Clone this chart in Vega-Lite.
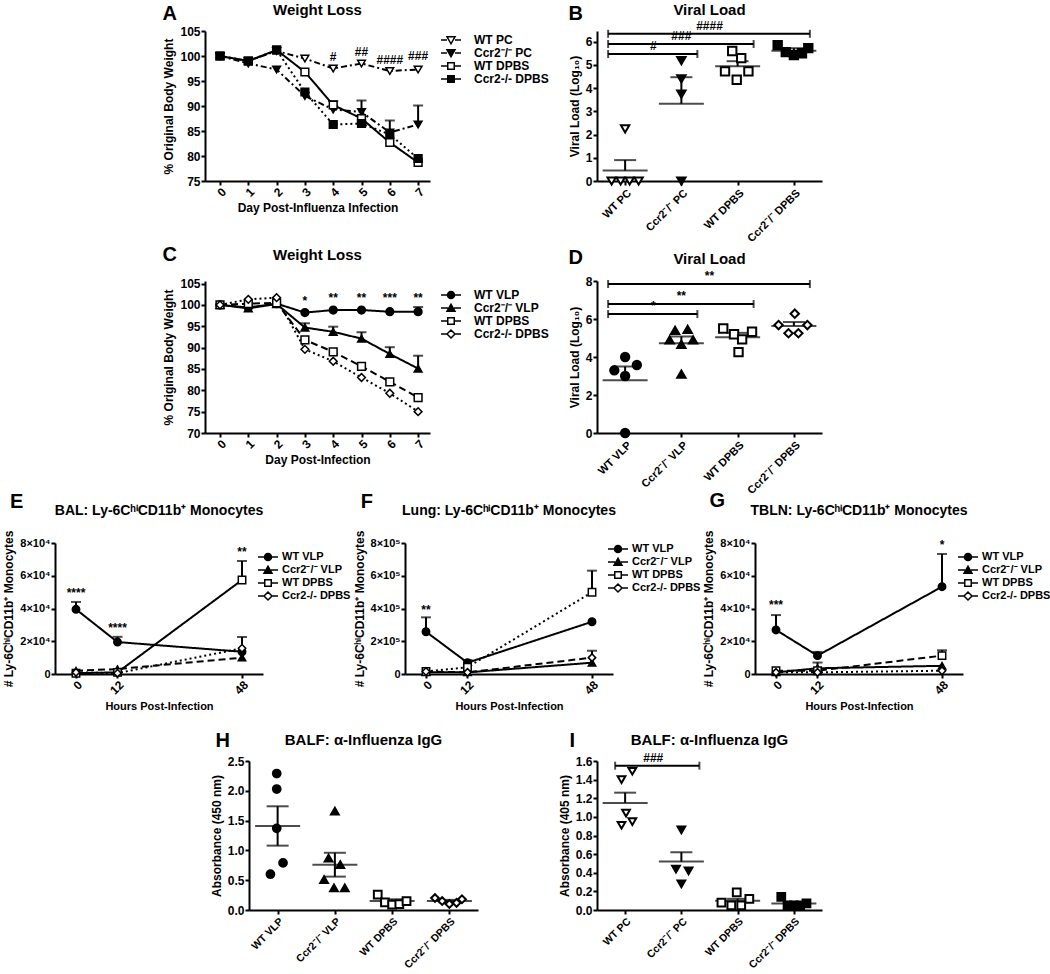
{
"$schema": "https://vega.github.io/schema/vega-lite/v6.json",
"padding": {"left": 0, "top": 2, "right": 0, "bottom": 0},
"background": "white",
"config": {
 "font": "Liberation Sans",
 "view": {"stroke": null},
 "axis": {"domainColor": "black", "domainWidth": 2, "tickColor": "black", "tickWidth": 2, "tickSize": 4, "labelFont": "Liberation Sans", "labelFontWeight": "bold", "labelFontSize": 12, "labelColor": "black", "labelPadding": 1, "labelOverlap": false, "titleFont": "Liberation Sans", "titleFontWeight": "bold", "titleFontSize": 12, "titleColor": "black", "grid": false},
 "title": {"font": "Liberation Sans", "fontWeight": "bold", "fontSize": 15, "color": "black", "frame": "group", "anchor": "middle"},
 "legend": {"labelFont": "Liberation Sans", "labelFontWeight": "bold", "labelColor": "black"},
 "text": {"font": "Liberation Sans", "fontWeight": "bold", "fontSize": 12, "color": "black"}
},
"datasets": {
 "A": [
  {"g":"WT PC","d":0,"v":100},{"g":"WT PC","d":1,"v":99},{"g":"WT PC","d":2,"v":101},{"g":"WT PC","d":3,"v":99.5},{"g":"WT PC","d":4,"v":97.5},{"g":"WT PC","d":5,"v":98.5},{"g":"WT PC","d":6,"v":97},{"g":"WT PC","d":7,"v":97.3},
  {"g":"Ccr2⁻/⁻ PC","d":0,"v":100},{"g":"Ccr2⁻/⁻ PC","d":1,"v":98.5},{"g":"Ccr2⁻/⁻ PC","d":2,"v":97.3},{"g":"Ccr2⁻/⁻ PC","d":3,"v":92},{"g":"Ccr2⁻/⁻ PC","d":4,"v":89.3},{"g":"Ccr2⁻/⁻ PC","d":5,"v":88.8,"hi":91.1},{"g":"Ccr2⁻/⁻ PC","d":6,"v":84.7,"hi":87.1},{"g":"Ccr2⁻/⁻ PC","d":7,"v":86.3,"hi":90.1},
  {"g":"WT DPBS","d":0,"v":100},{"g":"WT DPBS","d":1,"v":99},{"g":"WT DPBS","d":2,"v":101.2},{"g":"WT DPBS","d":3,"v":96.8},{"g":"WT DPBS","d":4,"v":90.2,"hi":91},{"g":"WT DPBS","d":5,"v":87.5},{"g":"WT DPBS","d":6,"v":82.7},{"g":"WT DPBS","d":7,"v":78.7},
  {"g":"Ccr2-/- DPBS","d":0,"v":100},{"g":"Ccr2-/- DPBS","d":1,"v":99},{"g":"Ccr2-/- DPBS","d":2,"v":101.2},{"g":"Ccr2-/- DPBS","d":3,"v":92.8},{"g":"Ccr2-/- DPBS","d":4,"v":86.3},{"g":"Ccr2-/- DPBS","d":5,"v":86.5},{"g":"Ccr2-/- DPBS","d":6,"v":84.3},{"g":"Ccr2-/- DPBS","d":7,"v":79.5}
 ],
 "Asig": [{"d":4,"v":99.8,"t":"#"},{"d":5,"v":100.8,"t":"##"},{"d":6,"v":99.2,"t":"####"},{"d":7,"v":100,"t":"###"}],
 "C": [
  {"g":"WT VLP","d":0,"v":100},{"g":"WT VLP","d":1,"v":99.4},{"g":"WT VLP","d":2,"v":100.3},{"g":"WT VLP","d":3,"v":98.2},{"g":"WT VLP","d":4,"v":98.8},{"g":"WT VLP","d":5,"v":98.8},{"g":"WT VLP","d":6,"v":98.4},{"g":"WT VLP","d":7,"v":98.4,"hi":99.5},
  {"g":"Ccr2⁻/⁻ VLP","d":0,"v":100},{"g":"Ccr2⁻/⁻ VLP","d":1,"v":99.2},{"g":"Ccr2⁻/⁻ VLP","d":2,"v":100.2},{"g":"Ccr2⁻/⁻ VLP","d":3,"v":94.7,"hi":95.7},{"g":"Ccr2⁻/⁻ VLP","d":4,"v":93.7,"hi":94.9},{"g":"Ccr2⁻/⁻ VLP","d":5,"v":92.1,"hi":93.6},{"g":"Ccr2⁻/⁻ VLP","d":6,"v":88.5,"hi":90.1},{"g":"Ccr2⁻/⁻ VLP","d":7,"v":85.1,"hi":88.1},
  {"g":"WT DPBS","d":0,"v":100},{"g":"WT DPBS","d":1,"v":100.3},{"g":"WT DPBS","d":2,"v":100.5},{"g":"WT DPBS","d":3,"v":91.8},{"g":"WT DPBS","d":4,"v":89},{"g":"WT DPBS","d":5,"v":85.6},{"g":"WT DPBS","d":6,"v":82},{"g":"WT DPBS","d":7,"v":78.3},
  {"g":"Ccr2-/- DPBS","d":0,"v":100},{"g":"Ccr2-/- DPBS","d":1,"v":101.3},{"g":"Ccr2-/- DPBS","d":2,"v":101.7},{"g":"Ccr2-/- DPBS","d":3,"v":89.6},{"g":"Ccr2-/- DPBS","d":4,"v":86.8},{"g":"Ccr2-/- DPBS","d":5,"v":83},{"g":"Ccr2-/- DPBS","d":6,"v":79.3},{"g":"Ccr2-/- DPBS","d":7,"v":75}
 ],
 "Csig": [{"d":3,"v":100.8,"t":"*"},{"d":4,"v":101.6,"t":"**"},{"d":5,"v":101.6,"t":"**"},{"d":6,"v":101.6,"t":"***"},{"d":7,"v":101.6,"t":"**"}],
 "E": [
  {"g":"WT VLP","h":0,"v":39500,"hi":44000},{"g":"WT VLP","h":12,"v":19500,"hi":22700},{"g":"WT VLP","h":48,"v":13600},
  {"g":"Ccr2⁻/⁻ VLP","h":0,"v":2000},{"g":"Ccr2⁻/⁻ VLP","h":12,"v":3000},{"g":"Ccr2⁻/⁻ VLP","h":48,"v":10000},
  {"g":"WT DPBS","h":0,"v":500},{"g":"WT DPBS","h":12,"v":1000},{"g":"WT DPBS","h":48,"v":57400,"hi":69000},
  {"g":"Ccr2-/- DPBS","h":0,"v":1000},{"g":"Ccr2-/- DPBS","h":12,"v":500},{"g":"Ccr2-/- DPBS","h":48,"v":15700,"hi":22600}
 ],
 "Esig": [{"h":0,"v":49500,"t":"****"},{"h":12,"v":28000,"t":"****"},{"h":48,"v":74500,"t":"**"}],
 "F": [
  {"g":"WT VLP","h":0,"v":258000,"hi":346000},{"g":"WT VLP","h":12,"v":69000,"hi":85000},{"g":"WT VLP","h":48,"v":319000},
  {"g":"Ccr2⁻/⁻ VLP","h":0,"v":10000},{"g":"Ccr2⁻/⁻ VLP","h":12,"v":10000},{"g":"Ccr2⁻/⁻ VLP","h":48,"v":69000},
  {"g":"WT DPBS","h":0,"v":15000},{"g":"WT DPBS","h":12,"v":41000},{"g":"WT DPBS","h":48,"v":499000,"hi":631000},
  {"g":"Ccr2-/- DPBS","h":0,"v":15000},{"g":"Ccr2-/- DPBS","h":12,"v":10000},{"g":"Ccr2-/- DPBS","h":48,"v":100000,"hi":142000}
 ],
 "Fsig": [{"h":0,"v":390000,"t":"**"}],
 "G": [
  {"g":"WT VLP","h":0,"v":26900,"hi":36000},{"g":"WT VLP","h":12,"v":11200,"hi":13500},{"g":"WT VLP","h":48,"v":53300,"hi":73300},
  {"g":"Ccr2⁻/⁻ VLP","h":0,"v":1000},{"g":"Ccr2⁻/⁻ VLP","h":12,"v":3500,"hi":7000},{"g":"Ccr2⁻/⁻ VLP","h":48,"v":5000},
  {"g":"WT DPBS","h":0,"v":2000},{"g":"WT DPBS","h":12,"v":2000},{"g":"WT DPBS","h":48,"v":11200,"hi":14500},
  {"g":"Ccr2-/- DPBS","h":0,"v":1000},{"g":"Ccr2-/- DPBS","h":12,"v":1000},{"g":"Ccr2-/- DPBS","h":48,"v":2000}
 ],
 "Gsig": [{"h":0,"v":42000,"t":"***"},{"h":48,"v":79000,"t":"*"}],
 "B": [
  {"g":"WT PC","v":0,"r":-1.5},{"g":"WT PC","v":0,"r":-0.5},{"g":"WT PC","v":0,"r":0.5},{"g":"WT PC","v":0,"r":1.5},{"g":"WT PC","v":2.25,"r":0},
  {"g":"Ccr2⁻/⁻ PC","v":5.18,"r":0},{"g":"Ccr2⁻/⁻ PC","v":4.4,"r":0},{"g":"Ccr2⁻/⁻ PC","v":3.74,"r":0},{"g":"Ccr2⁻/⁻ PC","v":0,"r":0},
  {"g":"WT DPBS","v":5.6,"r":-0.6},{"g":"WT DPBS","v":5.29,"r":0.4},{"g":"WT DPBS","v":4.72,"r":-1.4},{"g":"WT DPBS","v":4.72,"r":1.2},{"g":"WT DPBS","v":4.36,"r":-0.1},
  {"g":"Ccr2⁻/⁻ DPBS","v":5.85,"r":-1.8},{"g":"Ccr2⁻/⁻ DPBS","v":5.55,"r":-0.9},{"g":"Ccr2⁻/⁻ DPBS","v":5.42,"r":0},{"g":"Ccr2⁻/⁻ DPBS","v":5.5,"r":0.9},{"g":"Ccr2⁻/⁻ DPBS","v":5.72,"r":1.6}
 ],
 "Bsum": [{"g":"WT PC","v":0.45,"hi":0.9},{"g":"Ccr2⁻/⁻ PC","v":3.33,"hi":4.47},{"g":"WT DPBS","v":4.94,"hi":5.16},{"g":"Ccr2⁻/⁻ DPBS","v":5.61,"hi":5.72}],
 "Bbr": [{"a":1,"b":2,"c":1.5,"v":5.47,"t":"#"},{"a":1,"b":3,"c":2,"v":5.9,"t":"###"},{"a":1,"b":4,"c":2.5,"v":6.34,"t":"####"}],
 "D": [
  {"g":"WT VLP","v":4.0,"r":0},{"g":"WT VLP","v":3.58,"r":1.3},{"g":"WT VLP","v":3.3,"r":-1.2},{"g":"WT VLP","v":3.0,"r":0},{"g":"WT VLP","v":0,"r":0},
  {"g":"Ccr2⁻/⁻ VLP","v":5.4,"r":-0.7},{"g":"Ccr2⁻/⁻ VLP","v":5.45,"r":0.7},{"g":"Ccr2⁻/⁻ VLP","v":4.9,"r":-1.3},{"g":"Ccr2⁻/⁻ VLP","v":4.9,"r":1.3},{"g":"Ccr2⁻/⁻ VLP","v":4.67,"r":0},{"g":"Ccr2⁻/⁻ VLP","v":3.1,"r":0},
  {"g":"WT DPBS","v":5.5,"r":-1.6},{"g":"WT DPBS","v":5.2,"r":-0.4},{"g":"WT DPBS","v":4.93,"r":0.5},{"g":"WT DPBS","v":5.33,"r":1.6},{"g":"WT DPBS","v":4.26,"r":0.1},
  {"g":"Ccr2⁻/⁻ DPBS","v":6.28,"r":0.1},{"g":"Ccr2⁻/⁻ DPBS","v":5.68,"r":-1.7},{"g":"Ccr2⁻/⁻ DPBS","v":5.68,"r":1.5},{"g":"Ccr2⁻/⁻ DPBS","v":5.25,"r":-0.6},{"g":"Ccr2⁻/⁻ DPBS","v":5.25,"r":0.5}
 ],
 "Dsum": [{"g":"WT VLP","v":2.78,"hi":3.5},{"g":"Ccr2⁻/⁻ VLP","v":4.73,"hi":5.08},{"g":"WT DPBS","v":5.04,"hi":5.27},{"g":"Ccr2⁻/⁻ DPBS","v":5.63,"hi":5.84}],
 "Dbr": [{"a":1,"b":2,"c":1.5,"v":6.26,"t":"*"},{"a":1,"b":3,"c":2,"v":6.79,"t":"**"},{"a":1,"b":4,"c":2.5,"v":7.84,"t":"**"}],
 "H": [
  {"g":"WT VLP","v":2.29,"r":-0.1},{"g":"WT VLP","v":2.03,"r":-0.1},{"g":"WT VLP","v":1.37,"r":-0.1},{"g":"WT VLP","v":0.79,"r":0.6},{"g":"WT VLP","v":0.6,"r":-0.8},
  {"g":"Ccr2⁻/⁻ VLP","v":1.66,"r":0},{"g":"Ccr2⁻/⁻ VLP","v":0.87,"r":-0.7},{"g":"Ccr2⁻/⁻ VLP","v":0.76,"r":0.6},{"g":"Ccr2⁻/⁻ VLP","v":0.51,"r":-1.2},{"g":"Ccr2⁻/⁻ VLP","v":0.37,"r":-0.1},{"g":"Ccr2⁻/⁻ VLP","v":0.37,"r":1.1},
  {"g":"WT DPBS","v":0.26,"r":-1.6},{"g":"WT DPBS","v":0.13,"r":-0.8},{"g":"WT DPBS","v":0.09,"r":0},{"g":"WT DPBS","v":0.1,"r":0.8},{"g":"WT DPBS","v":0.15,"r":1.6},
  {"g":"Ccr2⁻/⁻ DPBS","v":0.2,"r":-1.6},{"g":"Ccr2⁻/⁻ DPBS","v":0.15,"r":-0.8},{"g":"Ccr2⁻/⁻ DPBS","v":0.1,"r":0},{"g":"Ccr2⁻/⁻ DPBS","v":0.12,"r":0.8},{"g":"Ccr2⁻/⁻ DPBS","v":0.18,"r":1.4}
 ],
 "Hsum": [{"g":"WT VLP","v":1.41,"lo":1.08,"hi":1.74},{"g":"Ccr2⁻/⁻ VLP","v":0.76,"lo":0.56,"hi":0.96},{"g":"WT DPBS","v":0.15,"lo":0.12,"hi":0.18},{"g":"Ccr2⁻/⁻ DPBS","v":0.15,"lo":0.13,"hi":0.17}],
 "I": [
  {"g":"WT PC","v":1.49,"r":0.8},{"g":"WT PC","v":1.4,"r":-0.4},{"g":"WT PC","v":1.04,"r":0.1},{"g":"WT PC","v":0.91,"r":-0.4},{"g":"WT PC","v":0.95,"r":0.8},
  {"g":"Ccr2⁻/⁻ PC","v":0.86,"r":0},{"g":"Ccr2⁻/⁻ PC","v":0.44,"r":-0.6},{"g":"Ccr2⁻/⁻ PC","v":0.42,"r":0.8},{"g":"Ccr2⁻/⁻ PC","v":0.28,"r":0},
  {"g":"WT DPBS","v":0.19,"r":-0.1},{"g":"WT DPBS","v":0.12,"r":1.3},{"g":"WT DPBS","v":0.08,"r":-1.8},{"g":"WT DPBS","v":0.05,"r":-0.7},{"g":"WT DPBS","v":0.05,"r":0.4},
  {"g":"Ccr2⁻/⁻ DPBS","v":0.14,"r":-1.4},{"g":"Ccr2⁻/⁻ DPBS","v":0.05,"r":-0.7},{"g":"Ccr2⁻/⁻ DPBS","v":0.05,"r":0},{"g":"Ccr2⁻/⁻ DPBS","v":0.05,"r":0.7},{"g":"Ccr2⁻/⁻ DPBS","v":0.07,"r":1.4}
 ],
 "Isum": [{"g":"WT PC","v":1.15,"hi":1.26},{"g":"Ccr2⁻/⁻ PC","v":0.52,"hi":0.62},{"g":"WT DPBS","v":0.1,"hi":0.12},{"g":"Ccr2⁻/⁻ DPBS","v":0.07,"hi":0.08}],
 "Ibr": [{"a":1,"b":2,"c":1.5,"v":1.55,"t":"###"}]
},
"spacing": -5,
"resolve": {"scale": {"shape": "independent", "fill": "independent", "stroke": "independent", "strokeDash": "independent", "xOffset": "independent"}, "legend": {"shape": "independent", "fill": "independent", "stroke": "independent", "strokeDash": "independent"}},
"vconcat": [
 {
  "spacing": 0, "bounds": "flush",
  "resolve": {"scale": {"shape": "independent", "fill": "independent", "stroke": "independent", "strokeDash": "independent", "xOffset": "independent"}, "legend": {"shape": "independent", "fill": "independent", "stroke": "independent", "strokeDash": "independent"}},
  "hconcat": [
   {"width": 205, "height": 219, "data": {"values": []}, "mark": "point", "title": {"text": "A", "fontSize": 20, "anchor": "end", "dx": -28, "offset": -3, "baseline": "middle"}},
   {
    "width": 225, "height": 150,
    "title": {"text": "Weight Loss", "offset": 0, "baseline": "middle"},
    "data": {"name": "A"},
    "encoding": {
     "x": {"field": "d", "type": "quantitative", "scale": {"domain": [-0.53, 7.42], "nice": false, "zero": false}, "axis": {"values": [0,1,2,3,4,5,6,7], "labelAngle": -45, "title": "Day Post-Influenza Infection"}},
     "y": {"field": "v", "type": "quantitative", "scale": {"domain": [75, 105], "nice": false, "zero": false}, "axis": {"values": [75,80,85,90,95,100,105], "title": "% Original Body Weight"}}
    },
    "layer": [
     {"transform": [{"filter": "datum.hi != null"}], "mark": {"type": "rule", "color": "black", "strokeWidth": 2}, "encoding": {"y2": {"field": "hi"}}},
     {"transform": [{"filter": "datum.hi != null"}], "mark": {"type": "tick", "orient": "horizontal", "color": "black", "size": 10, "thickness": 2}, "encoding": {"y": {"field": "hi", "type": "quantitative"}}},
     {"mark": {"type": "line", "color": "black", "strokeWidth": 2}, "encoding": {"strokeDash": {"field": "g", "type": "nominal", "scale": {"domain": ["Ccr2-/- DPBS","WT DPBS","Ccr2⁻/⁻ PC","WT PC"], "range": [[2,3],[1,0],[6,3,2,3],[6,3,2,3]]}, "legend": null}}},
     {"mark": {"type": "point", "stroke": "black", "strokeWidth": 1.5, "opacity": 1, "size": 60},
      "encoding": {
       "shape": {"field": "g", "type": "nominal", "scale": {"domain": ["WT PC","Ccr2⁻/⁻ PC","WT DPBS","Ccr2-/- DPBS"], "range": ["triangle-down","triangle-down","square","square"]}, "legend": null},
       "fill": {"field": "g", "type": "nominal", "scale": {"domain": ["WT PC","Ccr2⁻/⁻ PC","WT DPBS","Ccr2-/- DPBS"], "range": ["white","black","white","black"]}, "legend": null}
      }},
     {"mark": {"type": "point", "opacity": 0, "strokeWidth": 1.5},
      "encoding": {
       "shape": {"field": "g", "type": "nominal", "scale": {"domain": ["WT PC","Ccr2⁻/⁻ PC","WT DPBS","Ccr2-/- DPBS"], "range": ["M-2,0H-0.8M0.8,0H2M-0.8,-0.65L0.8,-0.65L0,0.75Z","M-2,0H-0.8M0.8,0H2M-0.8,-0.65L0.8,-0.65L0,0.75Z","M-2,0H-0.65M0.65,0H2M-0.65,-0.65H0.65V0.65H-0.65Z","M-2,0H-0.65M0.65,0H2M-0.65,-0.65H0.65V0.65H-0.65Z"]},
        "legend": {"title": null, "orient": "right", "offset": 12, "padding": 3, "rowPadding": -1, "symbolSize": 100, "symbolOpacity": 1, "symbolStrokeWidth": 1.5, "labelOffset": 17, "labelFontSize": 12}},
       "fill": {"field": "g", "type": "nominal", "scale": {"domain": ["WT PC","Ccr2⁻/⁻ PC","WT DPBS","Ccr2-/- DPBS"], "range": ["white","black","white","black"]},
        "legend": {"title": null, "orient": "right", "offset": 12, "padding": 3, "rowPadding": -1, "symbolSize": 100, "symbolOpacity": 1, "symbolStrokeWidth": 1.5, "labelOffset": 17, "labelFontSize": 12}},
       "stroke": {"field": "g", "type": "nominal", "scale": {"domain": ["WT PC","Ccr2⁻/⁻ PC","WT DPBS","Ccr2-/- DPBS"], "range": ["black","black","black","black"]},
        "legend": {"title": null, "orient": "right", "offset": 12, "padding": 3, "rowPadding": -1, "symbolSize": 100, "symbolOpacity": 1, "symbolStrokeWidth": 1.5, "labelOffset": 17, "labelFontSize": 12}}
      }},
     {"data": {"name": "Asig"}, "mark": {"type": "text", "fontSize": 12, "baseline": "middle"}, "encoding": {"text": {"field": "t", "type": "nominal"}}}
    ],
    "resolve": {"scale": {"shape": "independent", "fill": "independent", "stroke": "independent"}}
   },
   {"width": 167, "height": 1, "data": {"values": []}, "mark": "point", "title": {"text": "B", "fontSize": 20, "anchor": "end", "dx": -14, "offset": -3, "baseline": "middle"}},
   {
    "width": 225, "height": 150,
    "title": {"text": "Viral Load", "offset": -5, "baseline": "middle"},
    "layer": [
     {
      "encoding": {
       "x": {"field": "g", "type": "nominal", "scale": {"type": "point", "padding": 0.5, "domain": ["WT PC","Ccr2⁻/⁻ PC","WT DPBS","Ccr2⁻/⁻ DPBS"]}, "axis": {"labelAngle": -45, "title": null, "labelPadding": 2, "labelFontSize": 11}},
       "y": {"field": "v", "type": "quantitative", "scale": {"domain": [0, 6.46], "nice": false}, "axis": {"values": [0,1,2,3,4,5,6], "title": "Viral Load (Log₁₀)"}}
      },
      "layer": [
       {"data": {"name": "Bsum"}, "mark": {"type": "rule", "color": "black", "strokeWidth": 2}, "encoding": {"y2": {"field": "hi"}}},
       {"data": {"name": "Bsum"}, "mark": {"type": "tick", "orient": "horizontal", "color": "black", "size": 45, "thickness": 2}},
       {"data": {"name": "Bsum"}, "mark": {"type": "tick", "orient": "horizontal", "color": "black", "size": 22, "thickness": 2}, "encoding": {"y": {"field": "hi", "type": "quantitative"}}},
       {"data": {"name": "B"}, "mark": {"type": "point", "stroke": "black", "strokeWidth": 2, "opacity": 1, "size": 70},
        "encoding": {
         "xOffset": {"field": "r", "type": "quantitative", "scale": {"domain": [-2, 2], "range": [-18, 18]}},
         "shape": {"field": "g", "type": "nominal", "scale": {"domain": ["WT PC","Ccr2⁻/⁻ PC","WT DPBS","Ccr2⁻/⁻ DPBS"], "range": ["triangle-down","triangle-down","square","square"]}, "legend": null},
         "fill": {"field": "g", "type": "nominal", "scale": {"domain": ["WT PC","Ccr2⁻/⁻ PC","WT DPBS","Ccr2⁻/⁻ DPBS"], "range": ["white","black","white","black"]}, "legend": null}
        }}
      ]
     },
     {
      "data": {"name": "Bbr"},
      "encoding": {"x": {"field": "a", "type": "quantitative", "scale": {"domain": [0.5, 4.5], "nice": false, "zero": false}, "axis": null}, "y": {"field": "v", "type": "quantitative", "scale": {"domain": [0, 6.46], "nice": false}, "axis": {"values": [0,1,2,3,4,5,6], "title": "Viral Load (Log₁₀)"}}},
      "layer": [
       {"mark": {"type": "rule", "color": "black", "strokeWidth": 2, "xOffset": -17, "x2Offset": 16}, "encoding": {"x2": {"field": "b"}}},
       {"mark": {"type": "tick", "orient": "vertical", "color": "black", "size": 8, "thickness": 2, "xOffset": -17}},
       {"mark": {"type": "tick", "orient": "vertical", "color": "black", "size": 8, "thickness": 2, "xOffset": 16}, "encoding": {"x": {"field": "b", "type": "quantitative"}}},
       {"mark": {"type": "text", "baseline": "bottom", "dy": -1, "fontSize": 12}, "encoding": {"x": {"field": "c", "type": "quantitative"}, "text": {"field": "t", "type": "nominal"}}}
      ]
     }
    ],
    "resolve": {"scale": {"x": "independent"}}
   }
  ]
 },
 {
  "spacing": 0, "bounds": "flush",
  "resolve": {"scale": {"shape": "independent", "fill": "independent", "stroke": "independent", "strokeDash": "independent", "xOffset": "independent"}, "legend": {"shape": "independent", "fill": "independent", "stroke": "independent", "strokeDash": "independent"}},
  "hconcat": [
   {"width": 205, "height": 200, "data": {"values": []}, "mark": "point", "title": {"text": "C", "fontSize": 20, "anchor": "end", "dx": -28, "offset": 6, "baseline": "middle"}},
   {
    "width": 225, "height": 152,
    "title": {"text": "Weight Loss", "offset": 8, "baseline": "middle"},
    "data": {"name": "C"},
    "encoding": {
     "x": {"field": "d", "type": "quantitative", "scale": {"domain": [-0.53, 7.42], "nice": false, "zero": false}, "axis": {"values": [0,1,2,3,4,5,6,7], "labelAngle": -45, "title": "Day Post-Infection"}},
     "y": {"field": "v", "type": "quantitative", "scale": {"domain": [70, 105.6], "nice": false, "zero": false}, "axis": {"values": [70,75,80,85,90,95,100,105], "title": "% Original Body Weight"}}
    },
    "layer": [
     {"transform": [{"filter": "datum.hi != null"}], "mark": {"type": "rule", "color": "black", "strokeWidth": 2}, "encoding": {"y2": {"field": "hi"}}},
     {"transform": [{"filter": "datum.hi != null"}], "mark": {"type": "tick", "orient": "horizontal", "color": "black", "size": 10, "thickness": 2}, "encoding": {"y": {"field": "hi", "type": "quantitative"}}},
     {"mark": {"type": "line", "color": "black", "strokeWidth": 2}, "encoding": {"strokeDash": {"field": "g", "type": "nominal", "scale": {"domain": ["Ccr2-/- DPBS","WT DPBS","Ccr2⁻/⁻ VLP","WT VLP"], "range": [[2,3],[7,4],[1,0],[1,0]]}, "legend": null}}},
     {"mark": {"type": "point", "stroke": "black", "strokeWidth": 1.5, "opacity": 1, "size": 60},
      "encoding": {
       "shape": {"field": "g", "type": "nominal", "scale": {"domain": ["WT VLP","Ccr2⁻/⁻ VLP","WT DPBS","Ccr2-/- DPBS"], "range": ["circle","triangle-up","square","diamond"]}, "legend": null},
       "fill": {"field": "g", "type": "nominal", "scale": {"domain": ["WT VLP","Ccr2⁻/⁻ VLP","WT DPBS","Ccr2-/- DPBS"], "range": ["black","black","white","white"]}, "legend": null}
      }},
     {"mark": {"type": "point", "opacity": 0, "strokeWidth": 1.5},
      "encoding": {
       "shape": {"field": "g", "type": "nominal", "scale": {"domain": ["WT VLP","Ccr2⁻/⁻ VLP","WT DPBS","Ccr2-/- DPBS"], "range": ["M-2,0H-0.7M0.7,0H2M-0.7,0A0.7,0.7,0,1,1,0.7,0A0.7,0.7,0,1,1,-0.7,0Z","M-2,0H-0.6M0.6,0H2M-0.8,0.65L0.8,0.65L0,-0.75Z","M-2,0H-0.65M0.65,0H2M-0.65,-0.65H0.65V0.65H-0.65Z","M-2,0H-0.8M0.8,0H2M0,-0.8L0.8,0L0,0.8L-0.8,0Z"]},
        "legend": {"title": null, "orient": "right", "offset": 7, "padding": 8, "rowPadding": -1, "symbolSize": 100, "symbolOpacity": 1, "symbolStrokeWidth": 1.5, "labelOffset": 17, "labelFontSize": 12}},
       "fill": {"field": "g", "type": "nominal", "scale": {"domain": ["WT VLP","Ccr2⁻/⁻ VLP","WT DPBS","Ccr2-/- DPBS"], "range": ["black","black","white","white"]},
        "legend": {"title": null, "orient": "right", "offset": 7, "padding": 8, "rowPadding": -1, "symbolSize": 100, "symbolOpacity": 1, "symbolStrokeWidth": 1.5, "labelOffset": 17, "labelFontSize": 12}},
       "stroke": {"field": "g", "type": "nominal", "scale": {"domain": ["WT VLP","Ccr2⁻/⁻ VLP","WT DPBS","Ccr2-/- DPBS"], "range": ["black","black","black","black"]},
        "legend": {"title": null, "orient": "right", "offset": 7, "padding": 8, "rowPadding": -1, "symbolSize": 100, "symbolOpacity": 1, "symbolStrokeWidth": 1.5, "labelOffset": 17, "labelFontSize": 12}}
      }},
     {"data": {"name": "Csig"}, "mark": {"type": "text", "fontSize": 12, "baseline": "middle"}, "encoding": {"text": {"field": "t", "type": "nominal"}}}
    ],
    "resolve": {"scale": {"shape": "independent", "fill": "independent", "stroke": "independent"}}
   },
   {"width": 167, "height": 1, "data": {"values": []}, "mark": "point", "title": {"text": "D", "fontSize": 20, "anchor": "end", "dx": -14, "offset": 3, "baseline": "middle"}},
   {
    "width": 225, "height": 152,
    "title": {"text": "Viral Load", "offset": -4, "baseline": "middle"},
    "layer": [
     {
      "encoding": {
       "x": {"field": "g", "type": "nominal", "scale": {"type": "point", "padding": 0.5, "domain": ["WT VLP","Ccr2⁻/⁻ VLP","WT DPBS","Ccr2⁻/⁻ DPBS"]}, "axis": {"labelAngle": -45, "title": null, "labelPadding": 2, "labelFontSize": 11}},
       "y": {"field": "v", "type": "quantitative", "scale": {"domain": [0, 8], "nice": false}, "axis": {"values": [0,2,4,6,8], "title": "Viral Load (Log₁₀)"}}
      },
      "layer": [
       {"data": {"name": "Dsum"}, "mark": {"type": "rule", "color": "black", "strokeWidth": 2}, "encoding": {"y2": {"field": "hi"}}},
       {"data": {"name": "Dsum"}, "mark": {"type": "tick", "orient": "horizontal", "color": "black", "size": 45, "thickness": 2}},
       {"data": {"name": "Dsum"}, "mark": {"type": "tick", "orient": "horizontal", "color": "black", "size": 22, "thickness": 2}, "encoding": {"y": {"field": "hi", "type": "quantitative"}}},
       {"data": {"name": "D"}, "mark": {"type": "point", "stroke": "black", "strokeWidth": 2, "opacity": 1, "size": 70},
        "encoding": {
         "xOffset": {"field": "r", "type": "quantitative", "scale": {"domain": [-2, 2], "range": [-18, 18]}},
         "shape": {"field": "g", "type": "nominal", "scale": {"domain": ["WT VLP","Ccr2⁻/⁻ VLP","WT DPBS","Ccr2⁻/⁻ DPBS"], "range": ["circle","triangle-up","square","diamond"]}, "legend": null},
         "fill": {"field": "g", "type": "nominal", "scale": {"domain": ["WT VLP","Ccr2⁻/⁻ VLP","WT DPBS","Ccr2⁻/⁻ DPBS"], "range": ["black","black","white","white"]}, "legend": null}
        }}
      ]
     },
     {
      "data": {"name": "Dbr"},
      "encoding": {"x": {"field": "a", "type": "quantitative", "scale": {"domain": [0.5, 4.5], "nice": false, "zero": false}, "axis": null}, "y": {"field": "v", "type": "quantitative", "scale": {"domain": [0, 8], "nice": false}, "axis": {"values": [0,2,4,6,8], "title": "Viral Load (Log₁₀)"}}},
      "layer": [
       {"mark": {"type": "rule", "color": "black", "strokeWidth": 2, "xOffset": -17, "x2Offset": 16}, "encoding": {"x2": {"field": "b"}}},
       {"mark": {"type": "tick", "orient": "vertical", "color": "black", "size": 8, "thickness": 2, "xOffset": -17}},
       {"mark": {"type": "tick", "orient": "vertical", "color": "black", "size": 8, "thickness": 2, "xOffset": 16}, "encoding": {"x": {"field": "b", "type": "quantitative"}}},
       {"mark": {"type": "text", "baseline": "bottom", "dy": -1, "fontSize": 12}, "encoding": {"x": {"field": "c", "type": "quantitative"}, "text": {"field": "t", "type": "nominal"}}}
      ]
     }
    ],
    "resolve": {"scale": {"x": "independent"}}
   }
  ]
 },
 {
  "spacing": 0, "bounds": "flush",
  "resolve": {"scale": {"shape": "independent", "fill": "independent", "stroke": "independent", "strokeDash": "independent", "xOffset": "independent"}, "legend": {"shape": "independent", "fill": "independent", "stroke": "independent", "strokeDash": "independent"}},
  "hconcat": [
   {"width": 55, "height": 193, "data": {"values": []}, "mark": "point", "title": {"text": "E", "fontSize": 20, "anchor": "start", "dx": 10, "offset": 21, "baseline": "middle"}},
   {
    "width": 208, "height": 131,
    "title": {"text": "BAL: Ly-6CʰⁱCD11b⁺ Monocytes", "fontSize": 14, "offset": 5, "baseline": "middle"},
    "data": {"name": "E"},
    "encoding": {
     "x": {"field": "h", "type": "quantitative", "scale": {"domain": [-6.07, 54.07], "nice": false, "zero": false}, "axis": {"values": [0,12,48], "labelAngle": -45, "title": "Hours Post-Infection", "titleFontSize": 11}},
     "y": {"field": "v", "type": "quantitative", "scale": {"domain": [0, 80000], "nice": false}, "axis": {"values": [0,20000,40000,60000,80000], "labelFontSize": 11, "labelExpr": "datum.value == 0 ? '0' : format(datum.value / 10000, 'd') + '×10⁴'", "title": "# Ly-6CʰⁱCD11b⁺ Monocytes"}}
    },
    "layer": [
     {"transform": [{"filter": "datum.hi != null"}], "mark": {"type": "rule", "color": "black", "strokeWidth": 2}, "encoding": {"y2": {"field": "hi"}}},
     {"transform": [{"filter": "datum.hi != null"}], "mark": {"type": "tick", "orient": "horizontal", "color": "black", "size": 10, "thickness": 2}, "encoding": {"y": {"field": "hi", "type": "quantitative"}}},
     {"mark": {"type": "line", "color": "black", "strokeWidth": 2}, "encoding": {"strokeDash": {"field": "g", "type": "nominal", "scale": {"domain": ["Ccr2-/- DPBS","WT DPBS","Ccr2⁻/⁻ VLP","WT VLP"], "range": [[2,3],[1,0],[7,4],[1,0]]}, "legend": null}}},
     {"mark": {"type": "point", "stroke": "black", "strokeWidth": 1.5, "opacity": 1, "size": 55},
      "encoding": {
       "shape": {"field": "g", "type": "nominal", "scale": {"domain": ["WT VLP","Ccr2⁻/⁻ VLP","WT DPBS","Ccr2-/- DPBS"], "range": ["circle","triangle-up","square","diamond"]}, "legend": null},
       "fill": {"field": "g", "type": "nominal", "scale": {"domain": ["WT VLP","Ccr2⁻/⁻ VLP","WT DPBS","Ccr2-/- DPBS"], "range": ["black","black","white","white"]}, "legend": null}
      }},
     {"mark": {"type": "point", "opacity": 0, "strokeWidth": 1.5},
      "encoding": {
       "shape": {"field": "g", "type": "nominal", "scale": {"domain": ["WT VLP","Ccr2⁻/⁻ VLP","WT DPBS","Ccr2-/- DPBS"], "range": ["M-2,0H-0.7M0.7,0H2M-0.7,0A0.7,0.7,0,1,1,0.7,0A0.7,0.7,0,1,1,-0.7,0Z","M-2,0H-0.6M0.6,0H2M-0.8,0.65L0.8,0.65L0,-0.75Z","M-2,0H-0.65M0.65,0H2M-0.65,-0.65H0.65V0.65H-0.65Z","M-2,0H-0.8M0.8,0H2M0,-0.8L0.8,0L0,0.8L-0.8,0Z"]},
        "legend": {"title": null, "orient": "right", "offset": -9, "padding": 8, "rowPadding": -5, "symbolSize": 100, "symbolOpacity": 1, "symbolStrokeWidth": 1.5, "labelOffset": 8, "labelFontSize": 11}},
       "fill": {"field": "g", "type": "nominal", "scale": {"domain": ["WT VLP","Ccr2⁻/⁻ VLP","WT DPBS","Ccr2-/- DPBS"], "range": ["black","black","white","white"]},
        "legend": {"title": null, "orient": "right", "offset": -9, "padding": 8, "rowPadding": -5, "symbolSize": 100, "symbolOpacity": 1, "symbolStrokeWidth": 1.5, "labelOffset": 8, "labelFontSize": 11}},
       "stroke": {"field": "g", "type": "nominal", "scale": {"domain": ["WT VLP","Ccr2⁻/⁻ VLP","WT DPBS","Ccr2-/- DPBS"], "range": ["black","black","black","black"]},
        "legend": {"title": null, "orient": "right", "offset": -9, "padding": 8, "rowPadding": -5, "symbolSize": 100, "symbolOpacity": 1, "symbolStrokeWidth": 1.5, "labelOffset": 8, "labelFontSize": 11}}
      }},
     {"data": {"name": "Esig"}, "mark": {"type": "text", "fontSize": 12, "baseline": "middle"}, "encoding": {"text": {"field": "t", "type": "nominal"}}}
    ],
    "resolve": {"scale": {"shape": "independent", "fill": "independent", "stroke": "independent"}}
   },
   {"width": 142, "height": 1, "data": {"values": []}, "mark": "point", "title": {"text": "F", "fontSize": 20, "anchor": "end", "dx": -32, "offset": 21, "baseline": "middle"}},
   {
    "width": 208, "height": 131,
    "title": {"text": "Lung: Ly-6CʰⁱCD11b⁺ Monocytes", "fontSize": 14, "offset": 5, "baseline": "middle"},
    "data": {"name": "F"},
    "encoding": {
     "x": {"field": "h", "type": "quantitative", "scale": {"domain": [-6.07, 54.07], "nice": false, "zero": false}, "axis": {"values": [0,12,48], "labelAngle": -45, "title": "Hours Post-Infection", "titleFontSize": 11}},
     "y": {"field": "v", "type": "quantitative", "scale": {"domain": [0, 800000], "nice": false}, "axis": {"values": [0,200000,400000,600000,800000], "labelFontSize": 11, "labelExpr": "datum.value == 0 ? '0' : format(datum.value / 100000, 'd') + '×10⁵'", "title": "# Ly-6CʰⁱCD11b⁺ Monocytes"}}
    },
    "layer": [
     {"transform": [{"filter": "datum.hi != null"}], "mark": {"type": "rule", "color": "black", "strokeWidth": 2}, "encoding": {"y2": {"field": "hi"}}},
     {"transform": [{"filter": "datum.hi != null"}], "mark": {"type": "tick", "orient": "horizontal", "color": "black", "size": 10, "thickness": 2}, "encoding": {"y": {"field": "hi", "type": "quantitative"}}},
     {"mark": {"type": "line", "color": "black", "strokeWidth": 2}, "encoding": {"strokeDash": {"field": "g", "type": "nominal", "scale": {"domain": ["Ccr2-/- DPBS","WT DPBS","Ccr2⁻/⁻ VLP","WT VLP"], "range": [[7,4],[2,3],[1,0],[1,0]]}, "legend": null}}},
     {"mark": {"type": "point", "stroke": "black", "strokeWidth": 1.5, "opacity": 1, "size": 55},
      "encoding": {
       "shape": {"field": "g", "type": "nominal", "scale": {"domain": ["WT VLP","Ccr2⁻/⁻ VLP","WT DPBS","Ccr2-/- DPBS"], "range": ["circle","triangle-up","square","diamond"]}, "legend": null},
       "fill": {"field": "g", "type": "nominal", "scale": {"domain": ["WT VLP","Ccr2⁻/⁻ VLP","WT DPBS","Ccr2-/- DPBS"], "range": ["black","black","white","white"]}, "legend": null}
      }},
     {"mark": {"type": "point", "opacity": 0, "strokeWidth": 1.5},
      "encoding": {
       "shape": {"field": "g", "type": "nominal", "scale": {"domain": ["WT VLP","Ccr2⁻/⁻ VLP","WT DPBS","Ccr2-/- DPBS"], "range": ["M-2,0H-0.7M0.7,0H2M-0.7,0A0.7,0.7,0,1,1,0.7,0A0.7,0.7,0,1,1,-0.7,0Z","M-2,0H-0.6M0.6,0H2M-0.8,0.65L0.8,0.65L0,-0.75Z","M-2,0H-0.65M0.65,0H2M-0.65,-0.65H0.65V0.65H-0.65Z","M-2,0H-0.8M0.8,0H2M0,-0.8L0.8,0L0,0.8L-0.8,0Z"]},
        "legend": {"title": null, "orient": "right", "offset": -1, "padding": 0, "rowPadding": -5, "symbolSize": 100, "symbolOpacity": 1, "symbolStrokeWidth": 1.5, "labelOffset": 8, "labelFontSize": 11}},
       "fill": {"field": "g", "type": "nominal", "scale": {"domain": ["WT VLP","Ccr2⁻/⁻ VLP","WT DPBS","Ccr2-/- DPBS"], "range": ["black","black","white","white"]},
        "legend": {"title": null, "orient": "right", "offset": -1, "padding": 0, "rowPadding": -5, "symbolSize": 100, "symbolOpacity": 1, "symbolStrokeWidth": 1.5, "labelOffset": 8, "labelFontSize": 11}},
       "stroke": {"field": "g", "type": "nominal", "scale": {"domain": ["WT VLP","Ccr2⁻/⁻ VLP","WT DPBS","Ccr2-/- DPBS"], "range": ["black","black","black","black"]},
        "legend": {"title": null, "orient": "right", "offset": -1, "padding": 0, "rowPadding": -5, "symbolSize": 100, "symbolOpacity": 1, "symbolStrokeWidth": 1.5, "labelOffset": 8, "labelFontSize": 11}}
      }},
     {"data": {"name": "Fsig"}, "mark": {"type": "text", "fontSize": 12, "baseline": "middle"}, "encoding": {"text": {"field": "t", "type": "nominal"}}}
    ],
    "resolve": {"scale": {"shape": "independent", "fill": "independent", "stroke": "independent"}}
   },
   {"width": 142, "height": 1, "data": {"values": []}, "mark": "point", "title": {"text": "G", "fontSize": 20, "anchor": "end", "dx": -30, "offset": 22, "baseline": "middle"}},
   {
    "width": 208, "height": 131,
    "title": {"text": "TBLN: Ly-6CʰⁱCD11b⁺ Monocytes", "fontSize": 14, "offset": 5, "baseline": "middle"},
    "data": {"name": "G"},
    "encoding": {
     "x": {"field": "h", "type": "quantitative", "scale": {"domain": [-6.07, 54.07], "nice": false, "zero": false}, "axis": {"values": [0,12,48], "labelAngle": -45, "title": "Hours Post-Infection", "titleFontSize": 11}},
     "y": {"field": "v", "type": "quantitative", "scale": {"domain": [0, 80000], "nice": false}, "axis": {"values": [0,20000,40000,60000,80000], "labelFontSize": 11, "labelExpr": "datum.value == 0 ? '0' : format(datum.value / 10000, 'd') + '×10⁴'", "title": "# Ly-6CʰⁱCD11b⁺ Monocytes"}}
    },
    "layer": [
     {"transform": [{"filter": "datum.hi != null"}], "mark": {"type": "rule", "color": "black", "strokeWidth": 2}, "encoding": {"y2": {"field": "hi"}}},
     {"transform": [{"filter": "datum.hi != null"}], "mark": {"type": "tick", "orient": "horizontal", "color": "black", "size": 10, "thickness": 2}, "encoding": {"y": {"field": "hi", "type": "quantitative"}}},
     {"mark": {"type": "line", "color": "black", "strokeWidth": 2}, "encoding": {"strokeDash": {"field": "g", "type": "nominal", "scale": {"domain": ["Ccr2-/- DPBS","WT DPBS","Ccr2⁻/⁻ VLP","WT VLP"], "range": [[2,3],[7,4],[1,0],[1,0]]}, "legend": null}}},
     {"mark": {"type": "point", "stroke": "black", "strokeWidth": 1.5, "opacity": 1, "size": 55},
      "encoding": {
       "shape": {"field": "g", "type": "nominal", "scale": {"domain": ["WT VLP","Ccr2⁻/⁻ VLP","WT DPBS","Ccr2-/- DPBS"], "range": ["circle","triangle-up","square","diamond"]}, "legend": null},
       "fill": {"field": "g", "type": "nominal", "scale": {"domain": ["WT VLP","Ccr2⁻/⁻ VLP","WT DPBS","Ccr2-/- DPBS"], "range": ["black","black","white","white"]}, "legend": null}
      }},
     {"mark": {"type": "point", "opacity": 0, "strokeWidth": 1.5},
      "encoding": {
       "shape": {"field": "g", "type": "nominal", "scale": {"domain": ["WT VLP","Ccr2⁻/⁻ VLP","WT DPBS","Ccr2-/- DPBS"], "range": ["M-2,0H-0.7M0.7,0H2M-0.7,0A0.7,0.7,0,1,1,0.7,0A0.7,0.7,0,1,1,-0.7,0Z","M-2,0H-0.6M0.6,0H2M-0.8,0.65L0.8,0.65L0,-0.75Z","M-2,0H-0.65M0.65,0H2M-0.65,-0.65H0.65V0.65H-0.65Z","M-2,0H-0.8M0.8,0H2M0,-0.8L0.8,0L0,0.8L-0.8,0Z"]},
        "legend": {"title": null, "orient": "right", "offset": -9, "padding": 8, "rowPadding": -5, "symbolSize": 100, "symbolOpacity": 1, "symbolStrokeWidth": 1.5, "labelOffset": 8, "labelFontSize": 11}},
       "fill": {"field": "g", "type": "nominal", "scale": {"domain": ["WT VLP","Ccr2⁻/⁻ VLP","WT DPBS","Ccr2-/- DPBS"], "range": ["black","black","white","white"]},
        "legend": {"title": null, "orient": "right", "offset": -9, "padding": 8, "rowPadding": -5, "symbolSize": 100, "symbolOpacity": 1, "symbolStrokeWidth": 1.5, "labelOffset": 8, "labelFontSize": 11}},
       "stroke": {"field": "g", "type": "nominal", "scale": {"domain": ["WT VLP","Ccr2⁻/⁻ VLP","WT DPBS","Ccr2-/- DPBS"], "range": ["black","black","black","black"]},
        "legend": {"title": null, "orient": "right", "offset": -9, "padding": 8, "rowPadding": -5, "symbolSize": 100, "symbolOpacity": 1, "symbolStrokeWidth": 1.5, "labelOffset": 8, "labelFontSize": 11}}
      }},
     {"data": {"name": "Gsig"}, "mark": {"type": "text", "fontSize": 12, "baseline": "middle"}, "encoding": {"text": {"field": "t", "type": "nominal"}}}
    ],
    "resolve": {"scale": {"shape": "independent", "fill": "independent", "stroke": "independent"}}
   }
  ]
 },
 {
  "spacing": 0, "bounds": "flush",
  "resolve": {"scale": {"shape": "independent", "fill": "independent", "stroke": "independent", "strokeDash": "independent", "xOffset": "independent"}, "legend": {"shape": "independent", "fill": "independent", "stroke": "independent", "strokeDash": "independent"}},
  "hconcat": [
   {"width": 249, "height": 149, "data": {"values": []}, "mark": "point", "title": {"text": "H", "fontSize": 20, "anchor": "end", "dx": -19, "offset": 0, "baseline": "middle"}},
   {
    "width": 229, "height": 149,
    "title": {"text": "BALF: α-Influenza IgG", "offset": 0, "baseline": "middle"},
    "encoding": {
     "x": {"field": "g", "type": "nominal", "scale": {"type": "point", "padding": 0.5, "domain": ["WT VLP","Ccr2⁻/⁻ VLP","WT DPBS","Ccr2⁻/⁻ DPBS"]}, "axis": {"labelAngle": -45, "title": null, "labelPadding": 2, "labelFontSize": 10.5}},
     "y": {"field": "v", "type": "quantitative", "scale": {"domain": [0, 2.5], "nice": false}, "axis": {"values": [0,0.5,1,1.5,2,2.5], "format": ".1f", "title": "Absorbance (450 nm)"}}
    },
    "layer": [
     {"data": {"name": "Hsum"}, "mark": {"type": "rule", "color": "black", "strokeWidth": 2}, "encoding": {"y": {"field": "lo", "type": "quantitative"}, "y2": {"field": "hi"}}},
     {"data": {"name": "Hsum"}, "mark": {"type": "tick", "orient": "horizontal", "color": "black", "size": 45, "thickness": 2}},
     {"data": {"name": "Hsum"}, "mark": {"type": "tick", "orient": "horizontal", "color": "black", "size": 22, "thickness": 2}, "encoding": {"y": {"field": "hi", "type": "quantitative"}}},
     {"data": {"name": "Hsum"}, "mark": {"type": "tick", "orient": "horizontal", "color": "black", "size": 22, "thickness": 2}, "encoding": {"y": {"field": "lo", "type": "quantitative"}}},
     {"data": {"name": "H"}, "mark": {"type": "point", "stroke": "black", "strokeWidth": 2, "opacity": 1, "size": 60},
      "encoding": {
       "xOffset": {"field": "r", "type": "quantitative", "scale": {"domain": [-2, 2], "range": [-18, 18]}},
       "shape": {"field": "g", "type": "nominal", "scale": {"domain": ["WT VLP","Ccr2⁻/⁻ VLP","WT DPBS","Ccr2⁻/⁻ DPBS"], "range": ["circle","triangle-up","square","diamond"]}, "legend": null},
       "fill": {"field": "g", "type": "nominal", "scale": {"domain": ["WT VLP","Ccr2⁻/⁻ VLP","WT DPBS","Ccr2⁻/⁻ DPBS"], "range": ["black","black","white","white"]}, "legend": null}
      }}
    ]
   },
   {"width": 119, "height": 1, "data": {"values": []}, "mark": "point", "title": {"text": "I", "fontSize": 20, "anchor": "end", "dx": -22, "offset": 0, "baseline": "middle"}},
   {
    "width": 225, "height": 149,
    "title": {"text": "BALF: α-Influenza IgG", "offset": -3, "baseline": "middle"},
    "layer": [
     {
      "encoding": {
       "x": {"field": "g", "type": "nominal", "scale": {"type": "point", "padding": 0.5, "domain": ["WT PC","Ccr2⁻/⁻ PC","WT DPBS","Ccr2⁻/⁻ DPBS"]}, "axis": {"labelAngle": -45, "title": null, "labelPadding": 2, "labelFontSize": 10.5}},
       "y": {"field": "v", "type": "quantitative", "scale": {"domain": [0, 1.6], "nice": false}, "axis": {"values": [0,0.2,0.4,0.6,0.8,1,1.2,1.4,1.6], "format": ".1f", "title": "Absorbance (405 nm)"}}
      },
      "layer": [
       {"data": {"name": "Isum"}, "mark": {"type": "rule", "color": "black", "strokeWidth": 2}, "encoding": {"y2": {"field": "hi"}}},
       {"data": {"name": "Isum"}, "mark": {"type": "tick", "orient": "horizontal", "color": "black", "size": 45, "thickness": 2}},
       {"data": {"name": "Isum"}, "mark": {"type": "tick", "orient": "horizontal", "color": "black", "size": 22, "thickness": 2}, "encoding": {"y": {"field": "hi", "type": "quantitative"}}},
       {"data": {"name": "I"}, "mark": {"type": "point", "stroke": "black", "strokeWidth": 2, "opacity": 1, "size": 60},
        "encoding": {
         "xOffset": {"field": "r", "type": "quantitative", "scale": {"domain": [-2, 2], "range": [-18, 18]}},
         "shape": {"field": "g", "type": "nominal", "scale": {"domain": ["WT PC","Ccr2⁻/⁻ PC","WT DPBS","Ccr2⁻/⁻ DPBS"], "range": ["triangle-down","triangle-down","square","square"]}, "legend": null},
         "fill": {"field": "g", "type": "nominal", "scale": {"domain": ["WT PC","Ccr2⁻/⁻ PC","WT DPBS","Ccr2⁻/⁻ DPBS"], "range": ["white","black","white","black"]}, "legend": null}
        }}
      ]
     },
     {
      "data": {"name": "Ibr"},
      "encoding": {"x": {"field": "a", "type": "quantitative", "scale": {"domain": [0.5, 4.5], "nice": false, "zero": false}, "axis": null}, "y": {"field": "v", "type": "quantitative", "scale": {"domain": [0, 1.6], "nice": false}, "axis": {"values": [0,0.2,0.4,0.6,0.8,1,1.2,1.4,1.6], "format": ".1f", "title": "Absorbance (405 nm)"}}},
      "layer": [
       {"mark": {"type": "rule", "color": "black", "strokeWidth": 2, "xOffset": -10, "x2Offset": 18}, "encoding": {"x2": {"field": "b"}}},
       {"mark": {"type": "tick", "orient": "vertical", "color": "black", "size": 8, "thickness": 2, "xOffset": -10}},
       {"mark": {"type": "tick", "orient": "vertical", "color": "black", "size": 8, "thickness": 2, "xOffset": 18}, "encoding": {"x": {"field": "b", "type": "quantitative"}}},
       {"mark": {"type": "text", "baseline": "bottom", "dy": -1, "fontSize": 12}, "encoding": {"x": {"field": "c", "type": "quantitative"}, "text": {"field": "t", "type": "nominal"}}}
      ]
     }
    ],
    "resolve": {"scale": {"x": "independent"}}
   }
  ]
 }
]
}
